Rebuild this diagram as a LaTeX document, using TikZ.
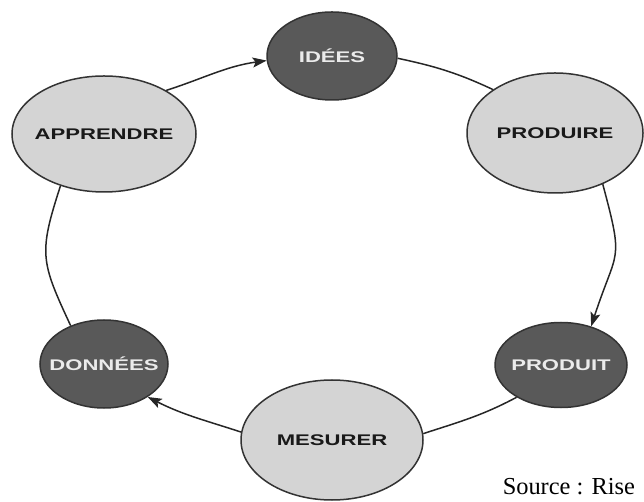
\documentclass[tikz,border=0pt]{standalone}
\usepackage{fontspec}
\newfontfamily\labelfont[FakeStretch=1.43]{Liberation Sans Bold}
\newfontfamily\sourcefont{Liberation Serif}
\usetikzlibrary{shapes.geometric,arrows.meta,positioning}

\begin{document}
\begin{tikzpicture}[x=1bp,y=1bp,>={Stealth[length=14bp,width=10bp,inset=3bp]},line width=1.5bp,draw=black!85,on grid,
  main node/.style={draw=black!80,ellipse,inner xsep=-20bp,inner ysep=0bp,font=\labelfont\fontsize{15.5}{18}\selectfont},
  light node/.style={main node,fill=black!17,text=black!90},
  dark node/.style={main node,fill=black!65,text=black!8}]
  \useasboundingbox (0,0) rectangle (644,502);
  \node[dark node,minimum width=130bp,minimum height=88bp] (idees) at (332,446) {IDÉES};
  \node[light node,minimum width=176bp,minimum height=120bp,below right=77bp and 223bp of idees] (produire) {PRODUIRE};
  \node[dark node,minimum width=132bp,minimum height=85bp,below right=232bp and 6bp of produire] (produit) {PRODUIT};
  \node[light node,minimum width=182bp,minimum height=120bp,below left=75bp and 229bp of produit] (mesurer) {MESURER};
  \node[dark node,minimum width=128bp,minimum height=88bp,above left=76bp and 228bp of mesurer] (donnees) {DONNÉES};
  \node[light node,minimum width=184bp,minimum height=116bp,above=230bp of donnees] (apprendre) {APPRENDRE};
  \path
  (apprendre.35) edge[->,out=18,in=188] (idees.184)
  (idees.-2) edge[out=-12,in=155] (produire.145)
  (produire.-47) edge[->,out=-75,in=72,looseness=1.5] (produit.52)
  (produit.216) edge[out=208,in=18] (mesurer.4)
  (mesurer.175) edge[->,out=162,in=-27] (donnees.-37)
  (donnees.131) edge[out=115,in=-108,looseness=1.3] (apprendre.230);
  \node[anchor=base west,inner sep=0pt,font=\sourcefont\fontsize{24.5}{28}\selectfont] (source) at (502,7) {Source : Rise};
\end{tikzpicture}
\end{document}
